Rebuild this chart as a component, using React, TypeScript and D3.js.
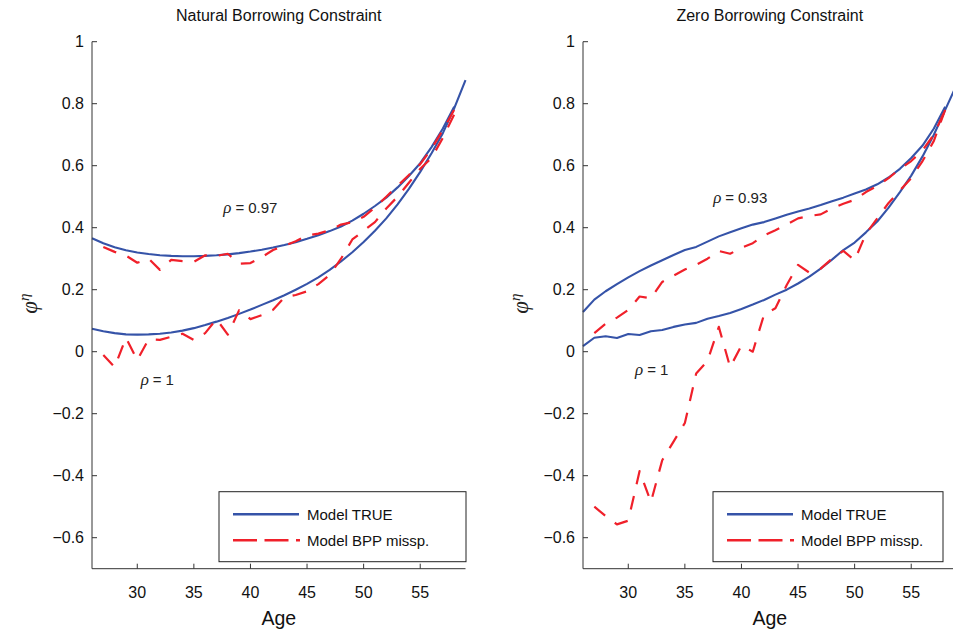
import * as d3 from "d3";

// ages on the x axis
const agesRho1 = [26, 27, 28, 29, 30, 31, 32, 33, 34, 35, 36, 37, 38, 39, 40, 41, 42, 43, 44, 45, 46, 47, 48, 49, 50, 51, 52, 53, 54, 55, 56, 57, 58, 59];
const agesRhoLow = [26, 27, 28, 29, 30, 31, 32, 33, 34, 35, 36, 37, 38, 39, 40, 41, 42, 43, 44, 45, 46, 47, 48, 49, 50, 51, 52, 53, 54, 55, 56, 57, 58];
const agesBpp = [27, 28, 29, 30, 31, 32, 33, 34, 35, 36, 37, 38, 39, 40, 41, 42, 43, 44, 45, 46, 47, 48, 49, 50, 51, 52, 53, 54, 55, 56, 57, 58];

// Natural borrowing constraint
const natTrueRhoLow = [0.366, 0.350, 0.337, 0.327, 0.320, 0.315, 0.311, 0.309, 0.308, 0.308, 0.309, 0.311, 0.314, 0.318, 0.323, 0.329, 0.336, 0.344, 0.353, 0.364, 0.376, 0.389, 0.404, 0.423, 0.445, 0.470, 0.497, 0.530, 0.567, 0.608, 0.660, 0.720, 0.790];
const natTrueRho1 = [0.074, 0.066, 0.060, 0.056, 0.055, 0.056, 0.058, 0.062, 0.068, 0.076, 0.086, 0.097, 0.109, 0.122, 0.136, 0.151, 0.166, 0.182, 0.200, 0.219, 0.240, 0.264, 0.291, 0.321, 0.354, 0.390, 0.430, 0.475, 0.525, 0.580, 0.640, 0.705, 0.785, 0.876];
const natBppRhoLow = [0.338, 0.322, 0.310, 0.287, 0.300, 0.264, 0.296, 0.292, 0.290, 0.311, 0.309, 0.316, 0.284, 0.286, 0.305, 0.328, 0.342, 0.356, 0.375, 0.381, 0.392, 0.410, 0.418, 0.435, 0.465, 0.500, 0.535, 0.570, 0.605, 0.655, 0.715, 0.780];
const natBppRho1 = [-0.011, -0.050, 0.045, -0.027, 0.040, 0.038, 0.048, 0.058, 0.038, 0.060, 0.105, 0.055, 0.134, 0.105, 0.118, 0.135, 0.175, 0.183, 0.195, 0.218, 0.248, 0.300, 0.362, 0.390, 0.418, 0.462, 0.500, 0.545, 0.590, 0.625, 0.690, 0.765];

// Zero borrowing constraint
const zeroTrueRhoLow = [0.128, 0.168, 0.195, 0.218, 0.240, 0.260, 0.278, 0.295, 0.312, 0.328, 0.338, 0.355, 0.372, 0.385, 0.398, 0.410, 0.418, 0.430, 0.442, 0.452, 0.462, 0.473, 0.485, 0.497, 0.510, 0.523, 0.540, 0.562, 0.590, 0.625, 0.665, 0.720, 0.790];
const zeroTrueRho1 = [0.018, 0.045, 0.050, 0.044, 0.057, 0.054, 0.066, 0.070, 0.080, 0.088, 0.093, 0.106, 0.115, 0.125, 0.138, 0.152, 0.167, 0.184, 0.200, 0.220, 0.242, 0.268, 0.297, 0.328, 0.352, 0.385, 0.420, 0.465, 0.515, 0.568, 0.630, 0.700, 0.780, 0.860];
const zeroBppRhoLow = [0.060, 0.090, 0.110, 0.135, 0.178, 0.172, 0.225, 0.245, 0.265, 0.280, 0.300, 0.325, 0.316, 0.335, 0.350, 0.375, 0.392, 0.410, 0.430, 0.438, 0.443, 0.462, 0.477, 0.490, 0.515, 0.535, 0.560, 0.590, 0.615, 0.650, 0.700, 0.780];
const zeroBppRho1 = [-0.500, -0.530, -0.557, -0.545, -0.385, -0.485, -0.350, -0.290, -0.230, -0.070, -0.030, 0.080, -0.050, 0.020, 0.000, 0.120, 0.140, 0.215, 0.280, 0.255, 0.268, 0.300, 0.325, 0.295, 0.380, 0.430, 0.480, 0.520, 0.560, 0.615, 0.680, 0.780];

const yTicks = [-0.6, -0.4, -0.2, 0, 0.2, 0.4, 0.6, 0.8, 1];
const xTicks = [30, 35, 40, 45, 50, 55];
const titles = ["Natural Borrowing Constraint", "Zero Borrowing Constraint"];
const legendLabels = ["Model TRUE", "Model BPP missp."];
// rho annotations: [age, value, text]
const natRhoLabels: [number, number, string][] = [[37.6, 0.447, "0.97"], [30.3, -0.107, "1"]];
const zeroRhoLabels: [number, number, string][] = [[37.5, 0.48, "0.93"], [30.6, -0.075, "1"]];

const W = 953;
const H = 632;
const TOP = 41.7;
const BOTTOM = 568.7;
const BLUE = "#3553a8";
const RED = "#f0202a";
const AXIS = "#333";
const SANS = "'Liberation Sans', Arial, Helvetica, sans-serif";
const SERIF = "'Liberation Serif', 'Times New Roman', serif";

const fmt = (v: number) => (v < 0 ? "\u2212" + String(Math.abs(v)) : String(v));

type Series = { ages: number[]; vals: number[]; bpp: boolean };

function Panel(props: {
  x0: number; x1: number; legendX: number; legendW: number; title: string;
  series: Series[]; rho: [number, number, string][];
}) {
  const { x0, x1, legendX, legendW, title, series, rho } = props;
  const x = d3.scaleLinear().domain([26, 59]).range([x0, x1]);
  const y = d3.scaleLinear().domain([-0.7, 1]).range([BOTTOM, TOP]);
  const line = d3.line<[number, number]>().x(d => x(d[0])).y(d => y(d[1]));
  const cx = (x0 + x1) / 2;
  const ly = 491.7;

  return (
    <g>
      <text x={cx} y={21} textAnchor="middle" fontFamily={SANS} fontSize={16} fill="#111">{title}</text>

      {series.map((s, i) => (
        <path key={i} d={line(s.ages.map((a, j) => [a, s.vals[j]] as [number, number])) || ""}
          fill="none" stroke={s.bpp ? RED : BLUE} strokeWidth={s.bpp ? 2.2 : 2.1}
          strokeDasharray={s.bpp ? "14,12" : undefined} strokeLinejoin="round" />
      ))}

      {/* axes */}
      <line x1={x0} x2={x0} y1={TOP} y2={BOTTOM} stroke={AXIS} strokeWidth={1} />
      <line x1={x0} x2={x1} y1={BOTTOM} y2={BOTTOM} stroke={AXIS} strokeWidth={1} />
      {yTicks.map(t => (
        <g key={"y" + t}>
          <line x1={x0} x2={x0 + 5} y1={y(t)} y2={y(t)} stroke={AXIS} />
          <text x={x0 - 8} y={y(t)} dy="0.36em" textAnchor="end" fontFamily={SANS} fontSize={16} fill="#111">{fmt(t)}</text>
        </g>
      ))}
      {xTicks.map(t => (
        <g key={"x" + t}>
          <line x1={x(t)} x2={x(t)} y1={BOTTOM} y2={BOTTOM - 5} stroke={AXIS} />
          <text x={x(t)} y={598} textAnchor="middle" fontFamily={SANS} fontSize={16} fill="#111">{t}</text>
        </g>
      ))}
      <text x={cx} y={625} textAnchor="middle" fontFamily={SANS} fontSize={19.5} fill="#111">Age</text>
      <text transform={`translate(${x0 - 55},${TOP + 262}) rotate(-90)`} textAnchor="middle"
        fontFamily={SERIF} fontStyle="italic" fontSize={23} fill="#222">
        φ<tspan dy={-8} fontSize={15}>η</tspan>
      </text>

      {rho.map(([a, v, s], i) => (
        <text key={"r" + i} x={x(a)} y={y(v)} fontFamily={SANS} fontSize={15} fill="#222">
          <tspan fontFamily={SERIF} fontStyle="italic" fontSize={17}>ρ</tspan>
          <tspan dx={4}>=</tspan>
          <tspan dx={4}>{s}</tspan>
        </text>
      ))}

      {/* legend */}
      <rect x={legendX} y={ly} width={legendW} height={70} fill="#fff" stroke="#222" strokeWidth={1} />
      <line x1={legendX + 14} x2={legendX + 80} y1={ly + 22.5} y2={ly + 22.5} stroke={BLUE} strokeWidth={2.4} />
      <line x1={legendX + 14} x2={legendX + 81} y1={ly + 48.6} y2={ly + 48.6} stroke={RED} strokeWidth={2.4} strokeDasharray="24,7.5" />
      <text x={legendX + 88} y={ly + 28} fontFamily={SANS} fontSize={15} fill="#111">{legendLabels[0]}</text>
      <text x={legendX + 88} y={ly + 54} fontFamily={SANS} fontSize={15} fill="#111">{legendLabels[1]}</text>
    </g>
  );
}

export default function App() {
  return (
    <svg width={W} height={H} style={{ position: "absolute", left: 0, top: 0, display: "block", background: "#fff" }}>
      <rect width={W} height={H} fill="#fff" />
      <Panel x0={92} x1={465.5} legendX={219} legendW={247} title={titles[0]} rho={natRhoLabels}
        series={[
          { ages: agesRhoLow, vals: natTrueRhoLow, bpp: false },
          { ages: agesRho1, vals: natTrueRho1, bpp: false },
          { ages: agesBpp, vals: natBppRhoLow, bpp: true },
          { ages: agesBpp, vals: natBppRho1, bpp: true },
        ]} />
      <Panel x0={583} x1={956.5} legendX={713} legendW={230} title={titles[1]} rho={zeroRhoLabels}
        series={[
          { ages: agesRhoLow, vals: zeroTrueRhoLow, bpp: false },
          { ages: agesRho1, vals: zeroTrueRho1, bpp: false },
          { ages: agesBpp, vals: zeroBppRhoLow, bpp: true },
          { ages: agesBpp, vals: zeroBppRho1, bpp: true },
        ]} />
    </svg>
  );
}
